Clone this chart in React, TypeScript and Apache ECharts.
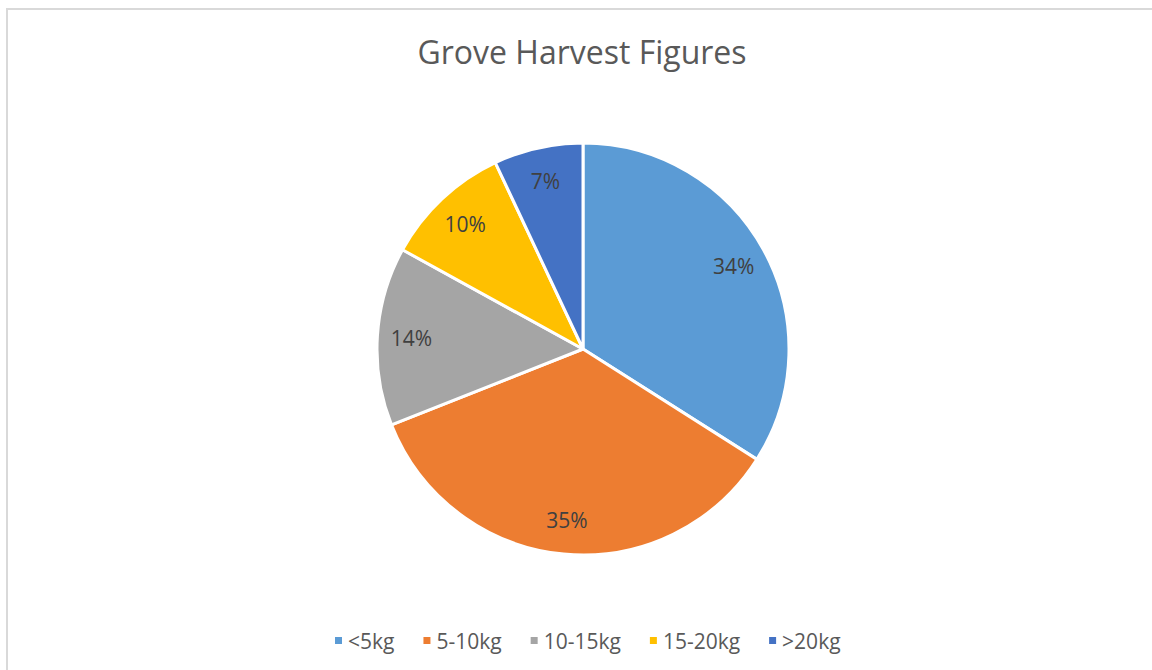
import React, { useEffect, useRef } from "react";
import * as echarts from "echarts";

const categories = ["<5kg", "5-10kg", "10-15kg", "15-20kg", ">20kg"];
const values = [34, 35, 14, 10, 7];
const colors = ["#5B9BD5", "#ED7D31", "#A5A5A5", "#FFC000", "#4472C4"];
const titleText = "Grove Harvest Figures";

export default function App() {
  const ref = useRef<HTMLDivElement>(null);
  useEffect(() => {
    if (!ref.current) return;
    const chart = echarts.init(ref.current, undefined, { renderer: "svg" });
    const data = categories.map((name, i) => ({ name, value: values[i] }));
    const total = values.reduce((a, b) => a + b, 0);
    chart.setOption({
      animation: false,
      color: colors,
      title: {
        text: titleText,
        left: 569,
        top: 20,
        textAlign: "center",
        textStyle: {
          fontFamily: "Open Sans",
          fontSize: 32,
          fontWeight: "normal",
          color: "#595959",
        },
      },
      legend: {
        top: 615,
        left: 320,
        itemWidth: 9,
        itemHeight: 9,
        itemGap: 27,
        icon: "rect",
        data: categories,
        textStyle: { fontFamily: "Open Sans", fontSize: 21, color: "#595959" },
      },
      series: [
        {
          type: "pie",
          center: [575, 339],
          radius: [0, 206],
          startAngle: 90,
          clockwise: true,
          data,
          label: { show: false },
          labelLine: { show: false },
          itemStyle: { borderColor: "#ffffff", borderWidth: 3 },
          emphasis: { disabled: true },
        },
        {
          type: "pie",
          center: [575, 339],
          radius: [148, 190],
          startAngle: 90,
          clockwise: true,
          silent: true,
          data,
          itemStyle: { color: "rgba(0,0,0,0)" },
          label: {
            show: true,
            position: "inside",
            formatter: (p: any) => Math.round((p.value / total) * 100) + "%",
            fontFamily: "Open Sans",
            fontSize: 21,
            color: "#404040",
          },
          labelLine: { show: false },
          emphasis: { disabled: true },
        },
      ],
    });
    return () => chart.dispose();
  }, []);
  return (
    <div
      ref={ref}
      style={{
        position: "fixed",
        left: 6,
        top: 8,
        width: 1146,
        height: 662,
        boxSizing: "border-box",
        borderTop: "2px solid #d9d9d9",
        borderLeft: "2px solid #d9d9d9",
        background: "#ffffff",
      }}
    />
  );
}
